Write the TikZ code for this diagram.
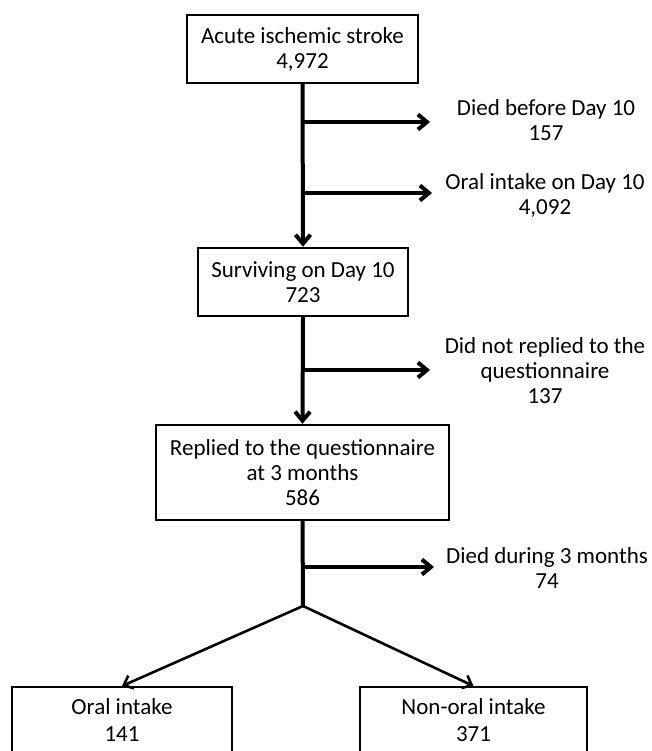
\documentclass[tikz,border=0pt]{standalone}
\usepackage{fontspec}
\setmainfont{Carlito}
\usepackage{tikz}
\usetikzlibrary{arrows.meta, positioning}

\begin{document}
\begin{tikzpicture}[
  x=1pt, y=-1pt,
  every node/.style={font=\fontsize{23}{25}\selectfont, align=center, inner sep=0pt},
  fbox/.style={draw, line width=2.4pt},
  trunk/.style={line width=4pt},
  harr/.style={line width=4pt, -{Straight Barb[length=9pt, width=15pt]}},
  darr/.style={line width=2.6pt, -{Straight Barb[length=8pt, width=14pt]}}
]
  \clip (0,0) rectangle (651,751);

  \node[fbox, minimum width=231, minimum height=68] (stroke) at (302.5,49) {Acute ischemic stroke\\4,972};
  \node[fbox, minimum width=210, minimum height=68] (day10) at (303,282) {Surviving on Day 10\\723};
  \node[fbox, minimum width=293, minimum height=95] (replied) at (302.5,472.5) {Replied to the questionnaire\\at 3 months\\586};
  \node[fbox, minimum width=220, anchor=north, inner ysep=11pt, text depth=80pt] (oral) at (122,686) {Oral intake\\[2pt]141};
  \node[fbox, minimum width=227, anchor=north, inner ysep=11pt, text depth=80pt] (nonoral) at (473.5,686) {Non-oral intake\\[2pt]371};

  \node (diedA) at (546,120.5) {Died before Day 10\\157};
  \node (oralA) at (545,195) {Oral intake on Day 10\\4,092};
  \node (noreply) at (545,371) {Did not replied to the\\questionnaire\\137};
  \node (diedB) at (547,568.5) {Died during 3 months\\74};

  \coordinate (b1) at (303,122);
  \coordinate (e1) at (430,122);
  \coordinate (b2) at (303,193);
  \coordinate (e2) at (432,193);
  \coordinate (b3) at (303,370);
  \coordinate (e3) at (430,370);
  \coordinate (b4) at (303,567);
  \coordinate (e4) at (434,567);
  \coordinate (split) at (303,606);

  \draw[harr] (stroke.south) -- (day10.north);
  \draw[harr] (day10.south) -- (replied.north);
  \draw[trunk] (replied.south) -- (split);
  \draw[harr] (b1) -- (e1);
  \draw[harr] (b2) -- (e2);
  \draw[harr] (b3) -- (e3);
  \draw[harr] (b4) -- (e4);
  \draw[darr] (split) -- (oral.north);
  \draw[darr] (split) -- (nonoral.north);
\end{tikzpicture}
\end{document}
